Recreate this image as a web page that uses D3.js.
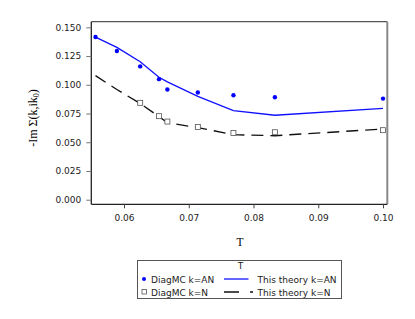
<!DOCTYPE html>
<html lang="en">
<head>
    <title>-Im Sigma vs T</title>
    <script src="https://d3js.org/d3.v7.min.js"></script>
    <style>
        body{ margin: 0; background-color: white; }
        svg{ display: block; }
        .tick text{ font-family: "DejaVu Sans", Verdana, sans-serif; font-size: 9px; fill: #222; }
        .serif{ font-family: "Liberation Serif", "Times New Roman", serif; }
        .legend text{ font-family: "DejaVu Sans", Verdana, sans-serif; font-size: 9px; fill: #222; }
    </style>
</head>
<body>
<div id="chart"></div>
<script>

// temperatures and values
var diagT      = [0.0556, 0.0589, 0.0625, 0.0654, 0.0667, 0.0714, 0.0769, 0.0833, 0.1000]
var diagAN     = [0.1416, 0.1294, 0.1160, 0.1049, 0.0959, 0.0933, 0.0909, 0.0892, 0.0880]
var diagNT     = [0.0625, 0.0654, 0.0667, 0.0714, 0.0769, 0.0833, 0.1000]
var diagN      = [0.0843, 0.0727, 0.0680, 0.0632, 0.0580, 0.0587, 0.0605]
var theoryT    = [0.0556, 0.0589, 0.0625, 0.0654, 0.0667, 0.0714, 0.0769, 0.0833, 0.1000]
var theoryAN   = [0.1415, 0.1325, 0.1200, 0.1065, 0.1025, 0.0900, 0.0775, 0.0735, 0.0795]
var theoryN    = [0.1079, 0.0959, 0.0837, 0.0723, 0.0670, 0.0627, 0.0566, 0.0557, 0.0615]

var xTicks = [0.06, 0.07, 0.08, 0.09, 0.10]
var yTicks = [0.000, 0.025, 0.050, 0.075, 0.100, 0.125, 0.150]

var width = 415, height = 319
var margin = {left: 91.3, right: 27.7, top: 21.7, bottom: 114.7}

var svg = d3.select("#chart").append("svg")
    .attr("width", width)
    .attr("height", height)

var x = d3.scaleLinear()
    .domain([0.05495, 0.10066])
    .range([margin.left, width - margin.right])

var y = d3.scaleLinear()
    .domain([-0.0040, 0.1549])
    .range([height - margin.bottom, margin.top])

// frame: top and right in grey
svg.append("line")
    .attr("x1", x.range()[0]).attr("x2", x.range()[1])
    .attr("y1", y.range()[1]).attr("y2", y.range()[1])
    .attr("stroke", "#555").attr("stroke-width", 1.2)
svg.append("line")
    .attr("x1", x.range()[1]).attr("x2", x.range()[1])
    .attr("y1", y.range()[1]).attr("y2", y.range()[0])
    .attr("stroke", "#888").attr("stroke-width", 2)

// axes
var xAxis = svg.append("g")
    .attr("transform", "translate(0," + y.range()[0] + ")")
    .call(d3.axisBottom(x).tickValues(xTicks).tickSize(4).tickPadding(6)
        .tickFormat(d => d3.format(".2f")(d)))
var yAxis = svg.append("g")
    .attr("transform", "translate(" + x.range()[0] + ",0)")
    .call(d3.axisLeft(y).tickValues(yTicks).tickSize(5).tickPadding(5)
        .tickFormat(d3.format(".3f")))

xAxis.select(".domain").attr("stroke", "#222").attr("stroke-width", 1.3)
    .attr("d", "M" + x.range()[0] + ",0H" + x.range()[1])
yAxis.select(".domain").attr("stroke", "#222").attr("stroke-width", 1.3)
    .attr("d", "M0," + y.range()[0] + "V" + y.range()[1])
xAxis.selectAll(".tick line").attr("stroke", "#444")
yAxis.selectAll(".tick line").attr("stroke", "#777")

// axis titles
svg.append("text")
    .attr("class", "serif")
    .attr("x", 240).attr("y", 246)
    .attr("text-anchor", "middle")
    .style("font-size", "11.5px")
    .text("T")

svg.append("text")
    .attr("class", "serif")
    .attr("transform", "translate(37,118) rotate(-90)")
    .attr("text-anchor", "middle")
    .style("font-size", "12px")
    .html("-Im Σ(k,ik<tspan dy='2' font-size='8px'>0</tspan><tspan dy='-2'>)</tspan>")

// theory lines
var line = d3.line().x(d => x(d[0])).y(d => y(d[1]))

svg.append("path")
    .datum(d3.zip(theoryT, theoryAN))
    .attr("d", line)
    .attr("fill", "none")
    .attr("stroke", "#1010ff")
    .attr("stroke-width", 1.3)

svg.append("path")
    .datum(d3.zip(theoryT, theoryN))
    .attr("d", line)
    .attr("fill", "none")
    .attr("stroke", "#111")
    .attr("stroke-width", 1.4)
    .attr("stroke-dasharray", "12,7")

// DiagMC points
svg.append("g").selectAll("circle")
    .data(d3.zip(diagT, diagAN))
    .enter().append("circle")
    .attr("cx", d => x(d[0]))
    .attr("cy", d => y(d[1]))
    .attr("r", 2.2)
    .attr("fill", "#0000ff")

svg.append("g").selectAll("rect")
    .data(d3.zip(diagNT, diagN))
    .enter().append("rect")
    .attr("x", d => x(d[0]) - 2.5)
    .attr("y", d => y(d[1]) - 2.5)
    .attr("width", 5).attr("height", 5)
    .attr("fill", "white")
    .attr("stroke", "#555")
    .attr("stroke-width", 0.8)

// legend
var legend = svg.append("g").attr("class", "legend")

legend.append("rect")
    .attr("x", 137.5).attr("y", 260.5)
    .attr("width", 204).attr("height", 38)
    .attr("fill", "white")
    .attr("stroke", "#555")

legend.append("text")
    .attr("x", 240.5).attr("y", 268.5)
    .attr("text-anchor", "middle")
    .text("T")

legend.append("circle")
    .attr("cx", 144).attr("cy", 279)
    .attr("r", 2).attr("fill", "#0000ff")
legend.append("text").attr("x", 151).attr("y", 282.5).text("DiagMC k=AN")

legend.append("rect")
    .attr("x", 142).attr("y", 289.5)
    .attr("width", 4.5).attr("height", 4.5)
    .attr("fill", "white").attr("stroke", "#555").attr("stroke-width", 0.8)
legend.append("text").attr("x", 151).attr("y", 295.5).text("DiagMC k=N")

legend.append("line")
    .attr("x1", 224).attr("x2", 248.5)
    .attr("y1", 279).attr("y2", 279)
    .attr("stroke", "#1010ff").attr("stroke-width", 1.3)
legend.append("text").attr("x", 257.5).attr("y", 282.5).text("This theory k=AN")

legend.append("line")
    .attr("x1", 224).attr("x2", 253)
    .attr("y1", 292).attr("y2", 292)
    .attr("stroke", "#111").attr("stroke-width", 1.4)
    .attr("stroke-dasharray", "15,11")
legend.append("text").attr("x", 257.5).attr("y", 295.5).text("This theory k=N")

</script>
</body>
</html>
